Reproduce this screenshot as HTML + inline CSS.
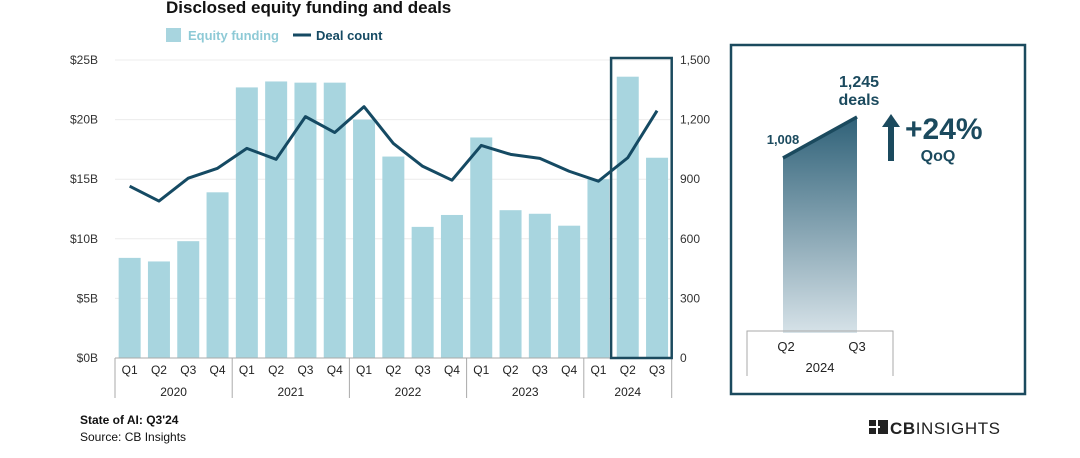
<!DOCTYPE html>
<html><head><meta charset="utf-8"><style>
body{margin:0;background:#fff;width:1080px;height:458px;overflow:hidden;font-family:"Liberation Sans",sans-serif;}
svg{display:block}
</style></head><body>
<svg width="1080" height="458">
<defs><linearGradient id="g" x1="0" y1="0" x2="0" y2="1"><stop offset="0" stop-color="#2f6178"/><stop offset="1" stop-color="#d6e2e8"/></linearGradient></defs>
<text x="166" y="13" font-size="17" font-weight="bold" fill="#111">Disclosed equity funding and deals</text>
<g>
<rect x="166" y="28" width="15" height="14" fill="#a8d5df"/>
<text x="188" y="40" font-size="13" font-weight="bold" fill="#8ecad6">Equity funding</text>
<line x1="293" y1="35" x2="311" y2="35" stroke="#154a63" stroke-width="3"/>
<text x="316" y="40" font-size="13" font-weight="bold" fill="#154a63">Deal count</text>
</g>
<g id="plot"></g>
<text x="80" y="424" font-size="12" font-weight="bold" fill="#111">State of AI: Q3'24</text>
<text x="80" y="441" font-size="12" fill="#111">Source: CB Insights</text>
<g>
<rect x="869" y="420" width="7" height="6" fill="#222"/><rect x="869" y="428" width="7" height="6" fill="#222"/><rect x="878" y="420" width="10" height="14" fill="#222"/><rect x="876" y="426" width="4" height="2" fill="#fff"/>
<text x="890" y="434" font-size="17" fill="#222" textLength="110"><tspan font-weight="bold">CB</tspan>INSIGHTS</text>
</g>
<g>
<rect x="731" y="45" width="294" height="349" fill="none" stroke="#1b4a5e" stroke-width="2.5"/>
<polygon points="783,158 857,117 857,333 783,333" fill="url(#g)"/>
<line x1="783" y1="158" x2="857" y2="117" stroke="#1b4a5e" stroke-width="3.5"/>
<path d="M747,376 V331 H893 V376" fill="none" stroke="#aaa" stroke-width="1"/>
<text x="786" y="351" font-size="13" text-anchor="middle" fill="#222">Q2</text>
<text x="857" y="351" font-size="13" text-anchor="middle" fill="#222">Q3</text>
<text x="820" y="372" font-size="13" text-anchor="middle" fill="#222">2024</text>
<text x="783" y="144" font-size="13" font-weight="bold" text-anchor="middle" fill="#1b4a5e">1,008</text>
<text x="859" y="87" font-size="16" font-weight="bold" text-anchor="middle" fill="#1b4a5e">1,245</text>
<text x="859" y="105" font-size="16" font-weight="bold" text-anchor="middle" fill="#1b4a5e">deals</text>
<polygon points="891,114 882,127 888,127 888,161 894,161 894,127 900,127" fill="#1b4a5e"/>
<text x="905" y="139" font-size="30" font-weight="bold" fill="#1b4a5e">+24%</text>
<text x="938" y="161" font-size="16" font-weight="bold" text-anchor="middle" fill="#1b4a5e">QoQ</text>
</g>
</svg>
<script>
const quarters=["Q1","Q2","Q3","Q4","Q1","Q2","Q3","Q4","Q1","Q2","Q3","Q4","Q1","Q2","Q3","Q4","Q1","Q2","Q3"];
const years=["2020","2021","2022","2023","2024"];
const funding=[8.4,8.1,9.8,13.9,22.7,23.2,23.1,23.1,20.0,16.9,11.0,12.0,18.5,12.4,12.1,11.1,15.0,23.6,16.8];
const deals=[865,790,905,955,1055,1000,1215,1135,1265,1080,965,895,1070,1025,1005,940,890,1008,1245];
const leftTicks=["$0B","$5B","$10B","$15B","$20B","$25B"];
const rightTicks=["0","300","600","900","1,200","1,500"];
const NS="http://www.w3.org/2000/svg",g=document.getElementById("plot");
const X0=115,CW=29.3,Y0=358,YT=60;
const yL=v=>Y0-(v/25)*(Y0-YT), yR=v=>Y0-(v/1500)*(Y0-YT), xc=i=>X0+CW*(i+0.5);
function mk(t,a,txt){const e=document.createElementNS(NS,t);for(const k in a)e.setAttribute(k,a[k]);if(txt!=null)e.textContent=txt;g.appendChild(e);return e;}
leftTicks.forEach((t,i)=>{const y=Y0-i*(Y0-YT)/5;
 if(i>0){const l=mk("line",{x1:X0,x2:670,y1:y,y2:y,stroke:"#ececec"});}
 const a=mk("text",{x:98,y:y+4,"font-size":12,"text-anchor":"end",fill:"#333"},t);
 const b=mk("text",{x:680,y:y+4,"font-size":12,fill:"#333"},rightTicks[i]);});
funding.forEach((v,i)=>{const r=mk("rect",{x:xc(i)-11,y:yL(v),width:22,height:Y0-yL(v),fill:"#a8d5df"});
 });
const base=mk("line",{x1:X0,x2:X0+CW*19,y1:Y0,y2:Y0,stroke:"#aaa"});
quarters.forEach((q,i)=>{const t=mk("text",{x:xc(i),y:374,"font-size":12,"text-anchor":"middle",fill:"#222"},q);});
years.forEach((yv,j)=>{const s=j*4,e=Math.min(s+4,19);
 const t=mk("text",{x:X0+CW*(s+e)/2,y:396,"font-size":12,"text-anchor":"middle",fill:"#222"},yv);
 const l=mk("line",{x1:X0+CW*s,x2:X0+CW*s,y1:Y0,y2:398,stroke:"#aaa"});});
const le=mk("line",{x1:X0+CW*19,x2:X0+CW*19,y1:Y0,y2:398,stroke:"#aaa"});
const p=mk("polyline",{points:deals.map((v,i)=>xc(i)+","+yR(v)).join(" "),fill:"none",stroke:"#154a63","stroke-width":3,"stroke-linejoin":"round"});

const hb=mk("rect",{x:X0+CW*17-2,y:58,width:CW*2+2,height:Y0-58,fill:"none",stroke:"#1b4a5e","stroke-width":2.5});

</script>
</body></html>
